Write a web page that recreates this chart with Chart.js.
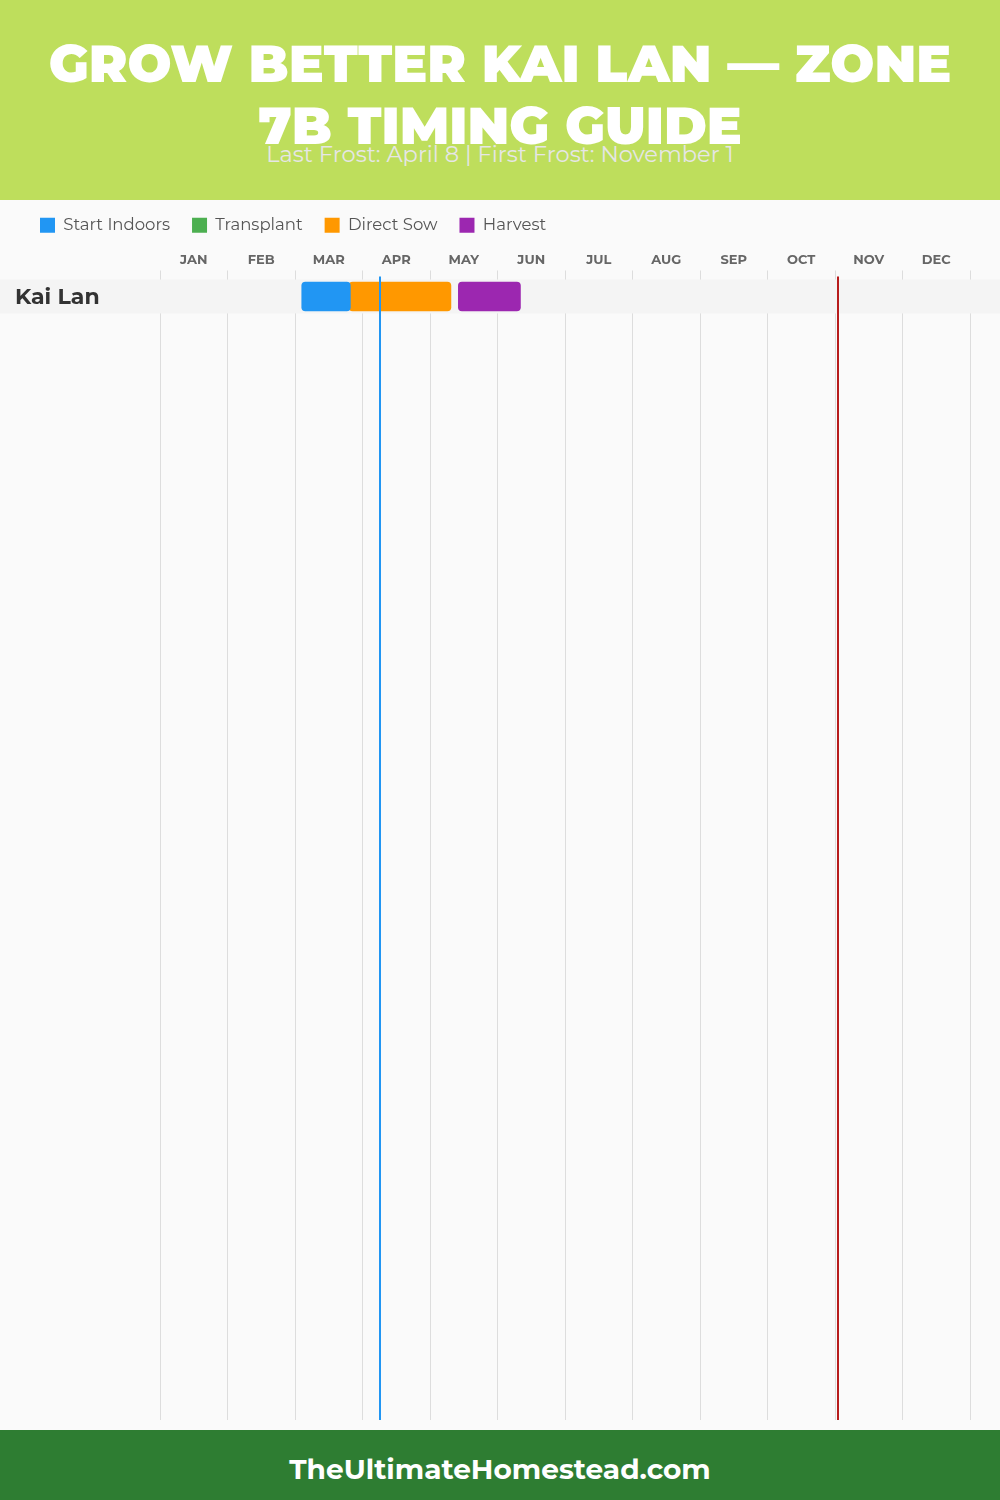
<!DOCTYPE html>
<html>
<head>
<meta charset="utf-8">
<script src="https://cdn.jsdelivr.net/npm/chart.js@4/dist/chart.umd.min.js"></script>
<style>
  body { margin: 0; width: 1000px; height: 1500px; background: #FAFAFA; position: relative; overflow: hidden; font-family: Montserrat, Inter, sans-serif; }
  .header { position: absolute; top: 0; left: 0; width: 1000px; height: 200px; background: #BEDE5C; z-index: 2; text-align: center; }
  .header h1 { margin: 0; position: absolute; top: 33px; left: 0; width: 1000px; box-sizing: border-box; padding: 0 45px; font-size: 52px; line-height: 62px; font-weight: 900; color: #fff; }
  .header .sub { position: absolute; top: 140px; left: 0; width: 1000px; font-size: 22.5px; color: #E6E6E6; }
  #wrap { position: absolute; top: 195px; left: 0; width: 1000px; height: 1235px; }
  .footer { position: absolute; top: 1430px; left: 0; width: 1000px; height: 61px; padding-top: 9px; background: #2E7D32; color: #fff; font-weight: 700; font-size: 28px; line-height: 61px; text-align: center; }
</style>
</head>
<body>
<div class="header">
  <h1>GROW BETTER KAI LAN — ZONE 7B TIMING GUIDE</h1>
  <div class="sub">Last Frost: April 8 | First Frost: November 1</div>
</div>
<div id="wrap"><canvas id="myChart" width="1000" height="1235"></canvas></div>
<div class="footer">TheUltimateHomestead.com</div>

<script>
// values in months from Jan 1 (0 = Jan 1, 12 = Dec 31)
const crops = ['Kai Lan']
const monthLabels = ['JAN', 'FEB', 'MAR', 'APR', 'MAY', 'JUN', 'JUL', 'AUG', 'SEP', 'OCT', 'NOV', 'DEC']
const startIndoors = [[2.1, 2.82]]
const transplant = [null]
const directSow = [[2.8, 4.31]]
const harvest = [[4.42, 5.34]]
const lastFrost = 3.26
const firstFrost = 10.04

const toBars = ranges => ranges
  .map((r, i) => r ? { x: r, y: i } : null)
  .filter(d => d)

const rowsPlugin = {
  id: 'rows',
  beforeDatasetsDraw(chart) {
    const ctx = chart.ctx
    const y = chart.scales.y
    ctx.save()
    crops.forEach((name, i) => {
      const top = y.getPixelForValue(i - 0.5)
      const bottom = y.getPixelForValue(i + 0.5)
      ctx.fillStyle = '#F4F4F4'
      ctx.fillRect(0, top, chart.width, bottom - top)
      ctx.fillStyle = '#333'
      ctx.font = 'bold 22px Montserrat, Inter, sans-serif'
      ctx.textBaseline = 'middle'
      ctx.textAlign = 'left'
      ctx.fillText(name, 15, (top + bottom) / 2 + 1)
    })
    ctx.restore()
  },
  afterDatasetsDraw(chart) {
    const ctx = chart.ctx
    const x = chart.scales.x
    const area = chart.chartArea
    const lines = [[lastFrost, '#2196F3'], [firstFrost, '#B71C1C']]
    ctx.save()
    lines.forEach(([v, color]) => {
      const px = Math.round(x.getPixelForValue(v))
      ctx.strokeStyle = color
      ctx.lineWidth = 2
      ctx.beginPath()
      ctx.moveTo(px, area.top - 3)
      ctx.lineTo(px, area.bottom)
      ctx.stroke()
    })
    ctx.restore()
  }
}

const data = {
  datasets: [
    { label: 'Start Indoors', data: toBars(startIndoors), backgroundColor: '#2196F3' },
    { label: 'Transplant', data: toBars(transplant), backgroundColor: '#4CAF50' },
    { label: 'Direct Sow', data: toBars(directSow), backgroundColor: '#FF9800' },
    { label: 'Harvest', data: toBars(harvest), backgroundColor: '#9C27B0' }
  ]
}

const config = {
  type: 'bar',
  data: data,
  plugins: [rowsPlugin],
  options: {
    indexAxis: 'y',
    responsive: false,
    animation: false,
    layout: { padding: { left: 18, right: 30, top: 0, bottom: 10 } },
    datasets: {
      bar: { grouped: false, barThickness: 29, borderRadius: 4, borderSkipped: false, borderWidth: 0 }
    },
    plugins: {
      tooltip: { enabled: false },
      legend: {
        position: 'top',
        align: 'start',
        labels: {
          boxWidth: 15,
          boxHeight: 15,
          padding: 22,
          color: '#555',
          font: { family: 'Montserrat, Inter, sans-serif', size: 16.5 }
        }
      }
    },
    scales: {
      x: {
        type: 'linear',
        position: 'top',
        min: 0,
        max: 12,
        afterBuildTicks: s => { s.ticks = monthLabels.concat(['']).map((m, i) => ({ value: i })) },
        afterFit: s => { s.height = 36 },
        grid: { color: '#DDDDDD', tickLength: 9 },
        border: { display: false },
        ticks: {
          callback: v => monthLabels[v] || '',
          labelOffset: 33.75,
          maxRotation: 0,
          autoSkip: false,
          color: '#666',
          font: { family: 'Montserrat, Inter, sans-serif', size: 13, weight: 'bold' }
        }
      },
      y: {
        type: 'linear',
        reverse: true,
        offset: false,
        bounds: 'data',
        min: -0.5,
        max: 33.09,
        afterFit: s => { s.width = 142 },
        grid: { display: false, offset: false },
        border: { display: false },
        ticks: { display: false }
      }
    }
  }
}

myChart = new Chart(document.getElementById('myChart'), config)
</script>
</body>
</html>
